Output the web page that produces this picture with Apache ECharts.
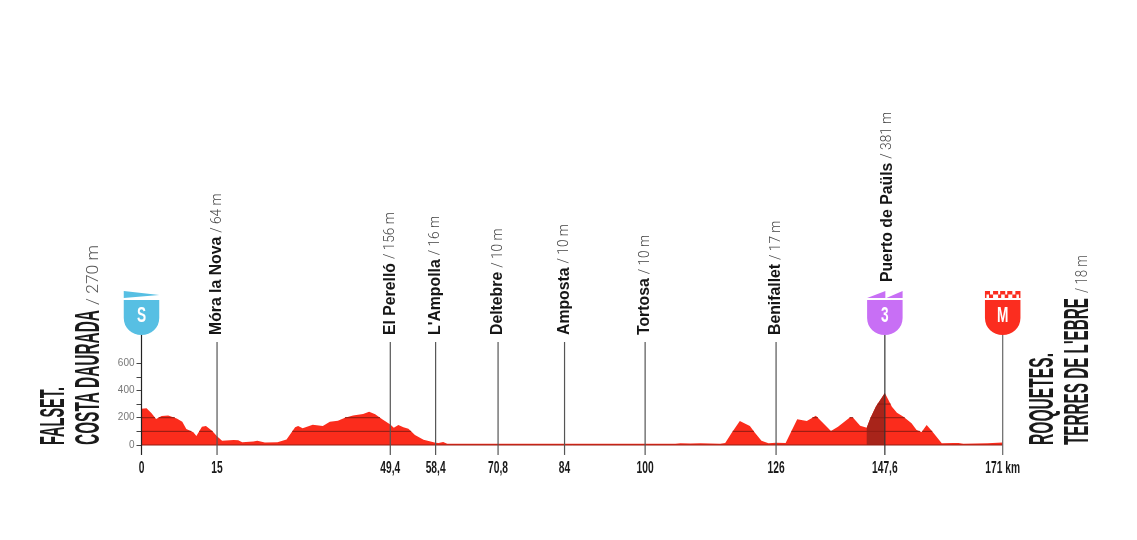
<!DOCTYPE html>
<html><head><meta charset="utf-8">
<style>html,body{margin:0;padding:0;background:#fff}#c{width:1137px;height:540px}</style>
<script src="https://cdn.jsdelivr.net/npm/echarts@6/dist/echarts.min.js"></script>
</head><body><div id="c"></div>
<script>
const profileKm = [0,1,2,2.9,4,5.3,7,8.1,8.9,10.3,10.9,12,12.8,14,15,16,18.3,19.2,20,22.2,23,24.5,27,28.8,30.5,31.1,32,34,36,37.4,39,40.4,42,44,45.2,46.4,47.8,49.4,50.1,51,52,53,54.3,56,58.4,59,59.9,60.7,70.8,84,100,106,107,109,111,114.9,115.9,117.2,118.8,120.8,121.8,123.1,124.5,126,127.9,130.2,132.1,133.9,136.9,138.3,140.7,141.3,142.7,144,144.7,145.8,147.6,149,150,151.3,152.9,153.9,154.9,155.9,156.9,158.9,161.2,162.2,163.2,168,171];
const profileAlt = [266,270,232,190,212,217,195,171,117,93,66,134,139,105,64,32,37,35,20,25,32,18,20,40,130,139,122,149,139,171,178,200,217,227,244,225,188,150,127,146,130,119,73,39,16,14,22,10,10,10,10,10,13,11,13,10,15,90,176,139,90,32,12,17,15,188,176,215,102,134,203,200,141,127,195,281,381,281,237,207,159,110,95,146,105,12,14,15,10,12,18];
const stopKm = [15,49.4,58.4,70.8,84,100,126,147.6];
const stopName = ['Móra la Nova','El Perelló',"L'Ampolla",'Deltebre','Amposta','Tortosa','Benifallet','Puerto de Paüls'];
const stopAlt = ['64 m','156 m','16 m','10 m','10 m','10 m','17 m','381 m'];
const climbKm = 147.6, climbStart = 144;
const shieldKm = [0,147.6,171];
const shieldText = ['S','3','M'];
const shieldColor = ['#57bfe3','#c86ff5','#fb2d1f'];
const xTicks = [0,15,49.4,58.4,70.8,84,100,126,147.6,171];
const xTickLabels = ['0','15','49,4','58,4','70,8','84','100','126','147,6','171 km'];
const yTicks = [0,100,200,300,400,500,600];
const yLabels = [0,200,400,600];
const levels = [100,200,300];
const startTitle = ['FALSET.','COSTA DAURADA','/ 270 m'];
const endTitle = ['ROQUETES.',"TERRES DE L'EBRE",'/ 18 m'];

const poleBottom = -73, poleTop = 755, shieldBase = 806, labelBase = 806, climbLabelBase = 1194;
const body = 'L35,27 C35,37 27,44 17.5,44 C8,44 0,37 0,27 Z';
const shieldPath = [
 'path://M0,0 L35,4 L0,7 Z M0,9 L35,9 ' + body,
 'path://M0,7 L18,0 L18,7 Z M19,7 L35,0 L35,7 Z M0,9 L35,9 ' + body,
 'path://M0,0 H5 V3.5 H0 Z M8,0 H13 V3.5 H8 Z M15,0 H20 V3.5 H15 Z M22,0 H27 V3.5 H22 Z M30,0 H35 V3.5 H30 Z M4,3.5 H8 V7 H4 Z M13,3.5 H16 V7 H13 Z M19.5,3.5 H23 V7 H19.5 Z M27,3.5 H31 V7 H27 Z M0,3.5 H1.5 V7 H0 Z M33.5,3.5 H35 V7 H33.5 Z M0,9 L35,9 ' + body
];
const profile = profileKm.map((k,i)=>[k,profileAlt[i]]);
const climb = profile.filter(p=>p[0]>=climbStart && p[0]<=climbKm);
const segs = [];
levels.forEach(l=>{
  let start=null;
  for(let i=0;i<profile.length-1;i++){
    const [a,b]=[profile[i],profile[i+1]];
    if(start===null && a[1]>=l) start=a[0];
    if(start===null && a[1]<l && b[1]>=l) start=a[0]+(l-a[1])/(b[1]-a[1])*(b[0]-a[0]);
    if(start!==null && a[1]>=l && b[1]<l){
      segs.push([start,a[0]+(a[1]-l)/(a[1]-b[1])*(b[0]-a[0]),l]); start=null;
    }
  }
});
segs.push([0,171,0]);
const sans='"Liberation Sans"', light='Roboto';
const mctx=document.createElement('canvas').getContext('2d');
const measure=(t,font)=>{mctx.font=font;return mctx.measureText(t).width;};
const lineItem=(color,width)=>(p,api)=>{
  const a=api.coord([api.value(0),api.value(2)]),b=api.coord([api.value(1),api.value(2)]);
  return {type:'line',shape:{x1:a[0],y1:a[1],x2:b[0],y2:b[1]},style:{stroke:color,lineWidth:width}};
};
const poleItem=(color,width)=>(p,api)=>{
  const a=api.coord([api.value(0),api.value(1)]),b=api.coord([api.value(0),api.value(2)]);
  return {type:'line',shape:{x1:a[0],y1:a[1],x2:b[0],y2:b[1]},style:{stroke:color,lineWidth:width}};
};
const title=(txt,x,y,size,len,color,weight,family)=>{
  const fam=family||sans,w=weight||'bold';
  const wd=measure(txt,w+' '+size+'px '+fam);
  return {type:'text',x,y,rotation:Math.PI/2,scaleX:len/wd,
  style:{text:txt,x:0,y:0,fontFamily:fam,fontSize:size,fontWeight:w,fill:color||'#1a1a1a',textAlign:'left',textVerticalAlign:'middle'}};
};
const chart=echarts.init(document.getElementById('c'),null,{renderer:'canvas'});
chart.setOption({
  animation:false,
  grid:{left:141.5,right:134.3,top:267.6,bottom:81.35,containLabel:false},
  xAxis:{type:'value',min:0,max:171,axisLine:{show:false},axisTick:{show:false},splitLine:{show:false},axisLabel:{show:false}},
  yAxis:{type:'value',min:-100,max:1300,interval:100,axisLine:{show:false},splitLine:{show:false},
    axisTick:{show:true,inside:false,length:5,customValues:yTicks,lineStyle:{color:'#444',width:1}},
    axisLabel:{customValues:yLabels,margin:7,fontFamily:sans,fontSize:10,color:'#777',formatter:v=>String(v)}},
  graphic:[
    title(startTitle[0],54.5,445,35,58),
    title(startTitle[1],89.5,445,35,135),
    title(startTitle[2],94,305,17,60,'#555','300',light),
    title(endTitle[0],1043,445,35,92),
    title(endTitle[1],1078.5,445,35,147),
    title(endTitle[2],1083,293,17,38,'#555','300',light)
  ],
  series:[
    {type:'line',data:profile,symbol:'none',lineStyle:{width:0},areaStyle:{color:'#fb2c1c',opacity:1,origin:0},z:2},
    {type:'line',data:climb,symbol:'none',lineStyle:{width:0},areaStyle:{color:'#a8241a',opacity:1,origin:0},z:3},
    {type:'custom',data:segs,renderItem:lineItem('#8f1c12',1),encode:{x:[0,1],y:2},z:4,clip:false},
    {type:'custom',data:stopKm.slice(0,7).map(k=>[k,poleBottom,poleTop]),renderItem:poleItem('#555',1.2),encode:{x:0,y:[1,2]},z:5,clip:false},
    {type:'custom',data:shieldKm.map(k=>[k,poleBottom,shieldBase]),renderItem:(p,api)=>poleItem(['#222','#333','#666'][p.dataIndex],1.2)(p,api),encode:{x:0,y:[1,2]},z:5,clip:false},
    // stop labels: bold name, light altitude, reading upwards from the top of each pole
    {type:'custom',clip:false,z:6,encode:{x:0,y:1},
      data:stopKm.map((k,i)=>[k,i===7?climbLabelBase:labelBase]),
      renderItem:(p,api)=>{
        const i=p.dataIndex,c=api.coord([api.value(0),api.value(1)]);
        const nameFont='bold 15.8px '+sans;
        const nw=measure(stopName[i],nameFont);
        const dx=i===7?2.5:0;
        const alt='/ '+stopAlt[i];
        return {type:'group',children:[
          {type:'text',x:c[0]+dx,y:c[1],rotation:Math.PI/2,style:{text:stopName[i],x:0,y:0,fontFamily:sans,fontSize:15.8,fontWeight:'bold',fill:'#161616',textAlign:'left',textVerticalAlign:'middle'}},
          {type:'text',x:c[0]+dx,y:c[1]-nw-4,rotation:Math.PI/2,scaleX:0.88,style:{text:alt,x:0,y:0,fontFamily:light,fontSize:15.5,fontWeight:'300',fill:'#444',textAlign:'left',textVerticalAlign:'middle'}}
        ]};
      }},
    {type:'scatter',clip:false,z:7,symbolKeepAspect:false,symbolSize:[35.5,44],symbolOffset:[0,-22],
      data:shieldKm.map((k,i)=>({value:[k,shieldBase],symbol:shieldPath[i],itemStyle:{color:shieldColor[i],opacity:1}}))},
    // shield letters
    {type:'custom',clip:false,z:8,encode:{x:0,y:1},data:shieldKm.map(k=>[k,shieldBase]),
      renderItem:(p,api)=>{const c=api.coord([api.value(0),api.value(1)]);
        return {type:'text',x:c[0],y:c[1]-19,scaleX:0.62,style:{text:shieldText[p.dataIndex],x:0,y:0,fontFamily:sans,fontSize:22,fontWeight:'bold',fill:'#fff',textAlign:'center',textVerticalAlign:'middle'}};}},
    // kilometre labels under each pole
    {type:'custom',clip:false,z:8,encode:{x:0,y:1},data:xTicks.map(k=>[k,-100]),
      renderItem:(p,api)=>{const c=api.coord([api.value(0),api.value(1)]);
        return {type:'text',x:c[0],y:c[1]+10,scaleX:0.62,style:{text:xTickLabels[p.dataIndex],x:0,y:0,fontFamily:sans,fontSize:16.5,fontWeight:'bold',fill:'#1a1a1a',textAlign:'center',textVerticalAlign:'middle'}};}}
  ]
});
</script></body></html>
